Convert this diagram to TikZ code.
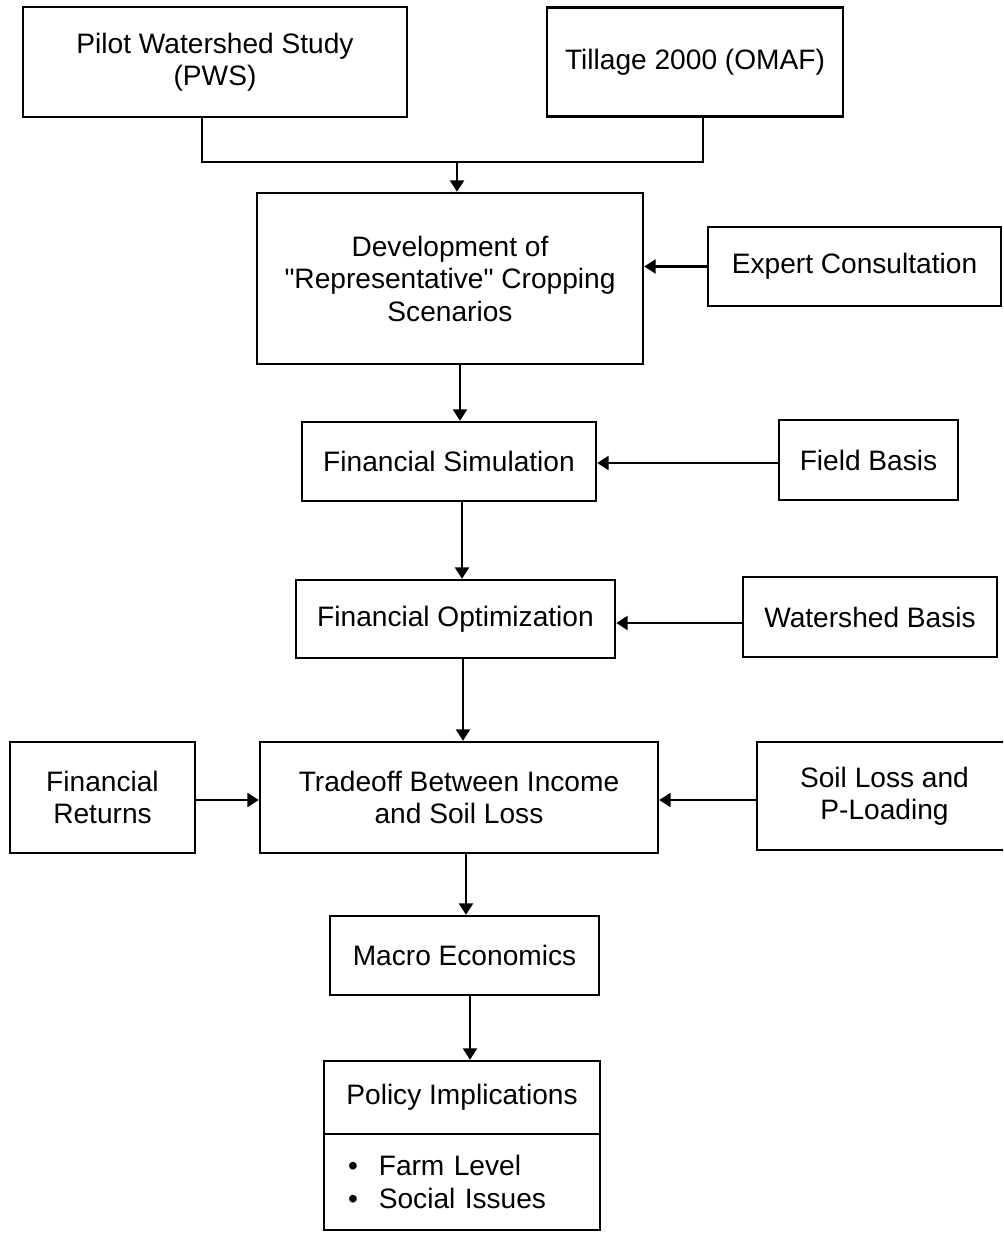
\documentclass[tikz,border=0pt]{standalone}
\usepackage{fontspec}
\setmainfont{Liberation Sans}
\newfontfamily\quotefont{Liberation Sans}
\newcommand{\sq}{{\quotefont"}}
\usetikzlibrary{arrows.meta,positioning}

\begin{document}
\begin{tikzpicture}[
    >={Triangle[width=8pt,length=6.5pt]},
    every node/.style={
        rectangle,
        draw=black,
        line width=1.4pt,
        inner sep=0pt,
        align=center,
        font=\fontsize{16}{18.5}\selectfont
    },
    edge/.style={
        ->,
        line width=1.2pt
    },
    link/.style={
        line width=1.2pt
    }
]

\useasboundingbox (0,0) rectangle (20.06,-24.68);
\clip (0,0) rectangle (20.06,-24.68);

% Sources
\node[minimum width=7.68cm, minimum height=2.20cm] (pws) at (4.30,-1.24) {Pilot Watershed Study\\(PWS)};
\node[minimum width=5.92cm, minimum height=2.18cm] (till) at (13.90,-1.24) {Tillage 2000 (OMAF)};
\coordinate (join) at (9.14,-3.24);

% Scenarios
\node[minimum width=7.72cm, minimum height=3.42cm] (dev) at (9.00,-5.57) {Development of\\\sq Representative\sq{} Cropping\\Scenarios};
\node[minimum width=5.86cm, minimum height=1.58cm] (expert) at (17.09,-5.33) {Expert Consultation};

% Simulation
\node[minimum width=5.88cm, minimum height=1.58cm] (fsim) at (8.98,-9.23) {Financial Simulation};
\node[minimum width=3.58cm, minimum height=1.60cm] (field) at (17.37,-9.20) {Field Basis};

% Optimization
\node[minimum width=6.38cm, minimum height=1.56cm] (fopt) at (9.11,-12.38) {Financial Optimization};
\node[minimum width=5.08cm, minimum height=1.60cm] (wsb) at (17.40,-12.34) {Watershed Basis};

% Tradeoff
\node[minimum width=7.96cm, minimum height=2.22cm] (trade) at (9.18,-15.95) {Tradeoff Between Income\\and Soil Loss};
\node[minimum width=3.70cm, minimum height=2.22cm] (fret) at (2.05,-15.95) {Financial\\Returns};
\node[minimum width=5.10cm, minimum height=2.16cm] (soil) at (17.69,-15.92) {Soil Loss and\\P-Loading};

% Outcomes
\node[minimum width=5.38cm, minimum height=1.58cm] (macro) at (9.29,-19.11) {Macro Economics};
\node[minimum width=5.52cm, minimum height=1.46cm] (pol) at (9.24,-21.95) {Policy Implications};
\node[minimum width=5.52cm, minimum height=1.92cm, inner xsep=0.48cm, text width=4.56cm, align=left,
      below=-1.4pt of pol] (pollist) {\textbullet\hspace{0.42cm}Farm Level\\\textbullet\hspace{0.42cm}Social Issues};

% Edges
\draw[link] ([xshift=-0.26cm]pws.south) |- (join);
\draw[link] ([xshift=0.16cm]till.south) |- (join);
\draw[edge] (join) -- (join |- dev.north);

\draw[edge] (expert.west) -- (expert.west -| dev.east);
\draw[edge] ([xshift=0.20cm]dev.south) -- ([xshift=0.20cm]dev.south |- fsim.north);

\draw[edge] ([yshift=-0.06cm]field.west) -- ([yshift=-0.06cm]field.west -| fsim.east);
\draw[edge] ([xshift=0.26cm]fsim.south) -- ([xshift=0.26cm]fsim.south |- fopt.north);

\draw[edge] ([yshift=-0.12cm]wsb.west) -- ([yshift=-0.12cm]wsb.west -| fopt.east);
\draw[edge] ([xshift=0.15cm]fopt.south) -- ([xshift=0.15cm]fopt.south |- trade.north);

\draw[edge] ([yshift=-0.05cm]fret.east) -- ([yshift=-0.05cm]fret.east -| trade.west);
\draw[edge] ([yshift=-0.08cm]soil.west) -- ([yshift=-0.08cm]soil.west -| trade.east);
\draw[edge] ([xshift=0.14cm]trade.south) -- ([xshift=0.14cm]trade.south |- macro.north);

\draw[edge] ([xshift=0.11cm]macro.south) -- ([xshift=0.11cm]macro.south |- pol.north);

\end{tikzpicture}
\end{document}
